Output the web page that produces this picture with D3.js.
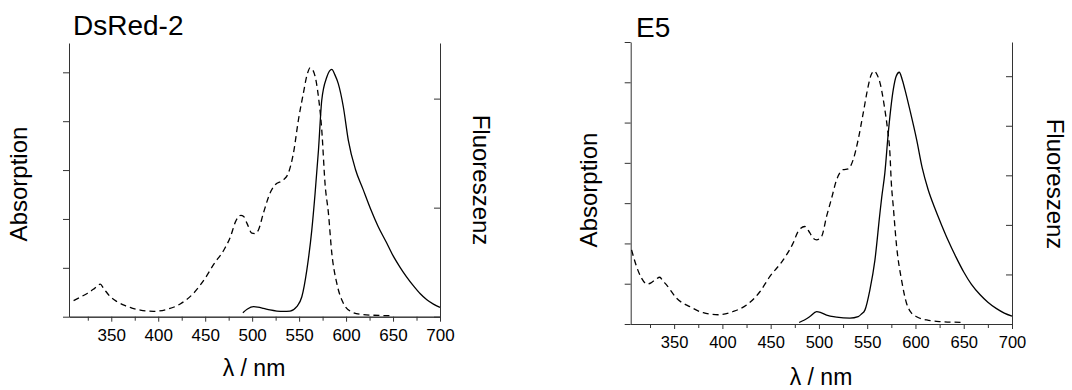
<!DOCTYPE html>
<html>
<head>
<meta charset="utf-8">
<script src="https://cdn.jsdelivr.net/npm/d3@7"></script>
<style>
  body { margin: 0; background: #fff; }
  text { font-family: "Liberation Sans", Arial, sans-serif; fill: #000; }
</style>
</head>
<body>
<div id="vis"></div>
<script>
// wavelength ticks (shared)
var majorTicks = [350, 400, 450, 500, 550, 600, 650, 700];
var minorTicks = [325, 375, 425, 475, 525, 575, 625, 675];

// DsRed-2 : absorption (dashed, left axis units) and fluorescence (solid, right axis units)
var dsredAbsWl = [309.9, 317, 324.8, 332, 338.3, 342, 348.9, 356, 364.9, 372, 380.9, 395, 409.2, 423.4, 437.6, 450.4, 459.2, 469.9, 477, 482.3, 488, 491, 494.4, 499.7, 503, 506.7, 512, 519.1, 524.5, 533.3, 538.6, 544, 549.3, 554.6, 558.5, 561.7, 564.5, 567, 570.5, 574.1, 577.7, 581.2, 584.8, 590.1, 597.1, 604.3, 614.9, 629, 650.3];
var dsredAbs = [0.066, 0.08, 0.096, 0.115, 0.133, 0.115, 0.082, 0.062, 0.045, 0.035, 0.027, 0.022, 0.030, 0.052, 0.096, 0.160, 0.215, 0.273, 0.328, 0.389, 0.415, 0.41, 0.383, 0.342, 0.34, 0.355, 0.424, 0.506, 0.540, 0.56, 0.588, 0.670, 0.806, 0.916, 0.99, 1.018, 1.01, 0.984, 0.902, 0.765, 0.54, 0.424, 0.260, 0.137, 0.055, 0.023, 0.010, 0.006, 0.004];
var dsredEmWl = [490.1, 495, 501.4, 506, 512, 519, 526.3, 533, 540.4, 547.5, 552.9, 558.2, 563.5, 567, 570.6, 574.1, 579.5, 584.8, 588, 591.7, 597.1, 602.4, 610, 618, 626, 634, 643, 650, 657, 664, 672, 679, 686, 693, 700];
var dsredEm = [0.037, 0.07, 0.092, 0.088, 0.077, 0.062, 0.052, 0.048, 0.052, 0.092, 0.183, 0.428, 0.794, 1.13, 1.527, 1.985, 2.198, 2.268, 2.22, 2.137, 1.923, 1.618, 1.35, 1.17, 0.99, 0.83, 0.68, 0.56, 0.46, 0.37, 0.28, 0.21, 0.155, 0.115, 0.085];

// E5
var e5AbsWl = [305.9, 311, 316.2, 322, 326, 330, 335.2, 338, 342.1, 352.5, 366.3, 380.1, 395.6, 411.1, 425, 438.8, 449.2, 463, 473.3, 478.5, 485.4, 490.6, 494, 497.6, 502.7, 507.9, 513.1, 518.3, 525.1, 530.3, 535.5, 540.7, 545.9, 551, 554, 557.3, 560, 563.2, 568.3, 571, 573.5, 575, 577, 580.5, 585.6, 590.8, 595, 601.2, 611.6, 625.3, 649.5];
var e5Abs = [1.84, 1.43, 1.14, 0.99, 1.02, 1.09, 1.16, 1.08, 0.97, 0.64, 0.43, 0.28, 0.23, 0.31, 0.47, 0.80, 1.18, 1.59, 2.01, 2.30, 2.42, 2.26, 2.13, 2.09, 2.17, 2.67, 3.12, 3.58, 3.83, 3.85, 4.08, 4.58, 5.24, 5.90, 6.18, 6.28, 6.2, 5.99, 5.32, 4.85, 4.25, 3.5, 2.92, 1.92, 1.09, 0.51, 0.3, 0.18, 0.10, 0.06, 0.04];
var e5EmWl = [479.5, 485, 490.6, 497.6, 502, 507.9, 518.3, 532.1, 540.7, 544, 547.6, 552.8, 558, 563.2, 565, 568.3, 571.8, 577, 580, 583.2, 586, 589.1, 594.2, 601.2, 607, 613, 620, 627, 634, 642, 650, 658, 667, 675, 684, 692, 700];
var e5Em = [0.03, 0.08, 0.15, 0.25, 0.23, 0.18, 0.14, 0.12, 0.15, 0.2, 0.28, 0.69, 1.29, 2.24, 2.55, 3.05, 3.85, 4.73, 5.0, 5.08, 4.95, 4.73, 4.32, 3.72, 3.15, 2.72, 2.34, 2.0, 1.68, 1.35, 1.05, 0.80, 0.59, 0.44, 0.31, 0.22, 0.16];

// panel layout
var panels = [
  { title: "DsRed-2", absWl: dsredAbsWl, abs: dsredAbs, emWl: dsredEmWl, em: dsredEm,
    x0: 69, x1: 440, yTop: 43, yBot: 316.7,
    absDomain: [0, 1.12], absTicks: [0, 0.2, 0.4, 0.6, 0.8, 1.0],
    emDomain: [0, 2.51], emTicks: [0, 1, 2],
    titleX: 73, titleY: 35, tickFont: 17, xLabelX: 254, xLabelY: 376,
    absLabelX: 27, absLabelY: 184, fluLabelX: 473, fluLabelY: 180 },
  { title: "E5", absWl: e5AbsWl, abs: e5Abs, emWl: e5EmWl, em: e5Em,
    x0: 630.7, x1: 1012, yTop: 42, yBot: 324,
    absDomain: [0, 7], absTicks: [0, 1, 2, 3, 4, 5, 6, 7],
    emDomain: [0, 5.69], emTicks: [0, 1, 2, 3, 4, 5],
    titleX: 636, titleY: 37, tickFont: 16.5, xLabelX: 821, xLabelY: 385,
    absLabelX: 597, absLabelY: 190, fluLabelX: 1047, fluLabelY: 184 }
];

var svg = d3.select("#vis").append("svg")
    .attr("width", 1072)
    .attr("height", 390);

function drawPanel( p )
{
    var g = svg.append("g");
    var x = d3.scaleLinear().domain([305, 700]).range([p.x0, p.x1]);
    var yA = d3.scaleLinear().domain(p.absDomain).range([p.yBot, p.yTop]);
    var yE = d3.scaleLinear().domain(p.emDomain).range([p.yBot, p.yTop]);

    // bottom axis, labelled major ticks
    var xAxis = g.append("g")
        .attr("transform", "translate(0," + p.yBot + ")")
        .call(d3.axisBottom(x).tickValues(majorTicks).tickSize(5).tickSizeOuter(0).tickPadding(7));
    xAxis.selectAll("text").attr("font-size", p.tickFont).style("font-family", "Liberation Sans, Arial, sans-serif");
    g.append("g")
        .attr("transform", "translate(0," + p.yBot + ")")
        .call(d3.axisBottom(x).tickValues(minorTicks).tickSize(4).tickSizeOuter(0).tickFormat(""));

    // left axis (absorption)
    g.append("g")
        .attr("transform", "translate(" + p.x0 + ",0)")
        .call(d3.axisLeft(yA).tickValues(p.absTicks).tickSize(6).tickSizeOuter(0).tickFormat(""));

    // right axis (fluorescence), ticks pointing inward
    g.append("g")
        .attr("transform", "translate(" + p.x1 + ",0)")
        .call(d3.axisRight(yE).tickValues(p.emTicks).tickSize(-6).tickSizeOuter(0).tickFormat(""));

    g.selectAll(".domain, .tick line").attr("stroke", "#333").attr("stroke-width", 1);

    var absLine = d3.line()
        .x(function(d, i) { return x(p.absWl[i]); })
        .y(function(d) { return yA(d); })
        .curve(d3.curveMonotoneX);
    var emLine = d3.line()
        .x(function(d, i) { return x(p.emWl[i]); })
        .y(function(d) { return yE(d); })
        .curve(d3.curveMonotoneX);

    g.append("path")
        .attr("d", absLine(p.abs))
        .attr("fill", "none")
        .attr("stroke", "#000")
        .attr("stroke-width", 1.3)
        .attr("stroke-dasharray", "6,4");
    g.append("path")
        .attr("d", emLine(p.em))
        .attr("fill", "none")
        .attr("stroke", "#000")
        .attr("stroke-width", 1.3);

    g.append("text")
        .attr("x", p.titleX).attr("y", p.titleY)
        .attr("font-size", 28)
        .text(p.title);

    g.append("text")
        .attr("x", p.xLabelX).attr("y", p.xLabelY)
        .attr("text-anchor", "middle")
        .attr("font-size", 23)
        .text("\u03bb / nm");

    g.append("text")
        .attr("transform", "translate(" + p.absLabelX + "," + p.absLabelY + ") rotate(-90)")
        .attr("text-anchor", "middle")
        .attr("font-size", 24)
        .text("Absorption");

    g.append("text")
        .attr("transform", "translate(" + p.fluLabelX + "," + p.fluLabelY + ") rotate(90)")
        .attr("text-anchor", "middle")
        .attr("font-size", 24)
        .text("Fluoreszenz");
}

panels.forEach(drawPanel);
</script>
</body>
</html>
